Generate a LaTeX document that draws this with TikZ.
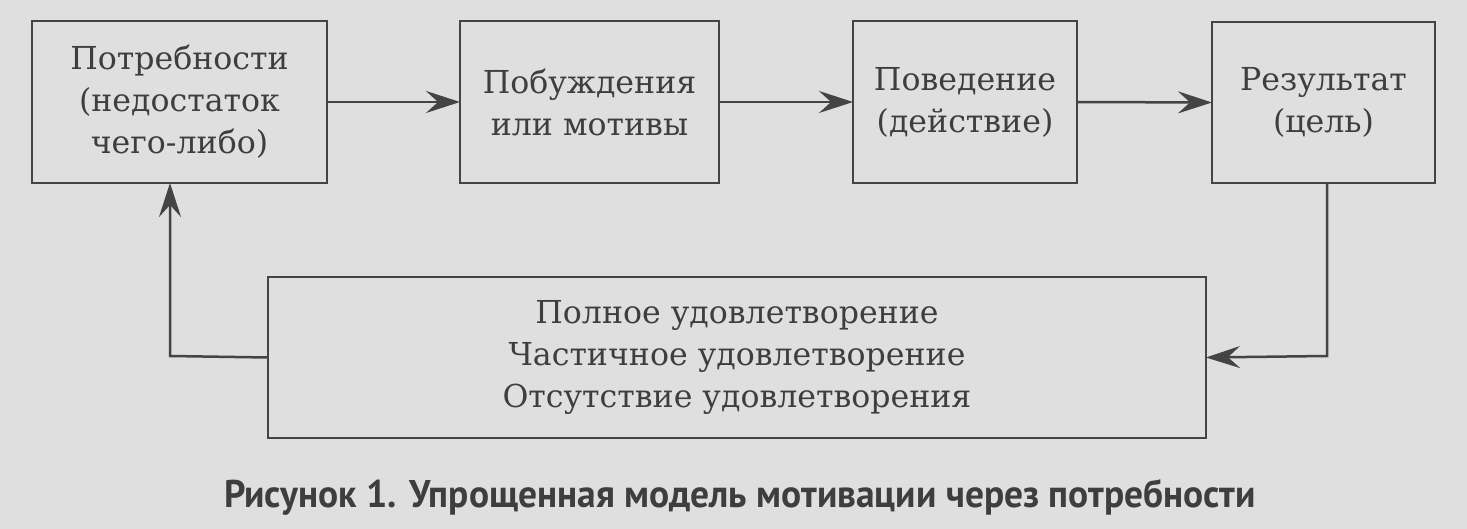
\documentclass[tikz,border=0pt]{standalone}
\usepackage{graphicx}
\usepackage{fontspec}
\setmainfont{DejaVu Serif}
\newfontfamily\capfont{PT Sans}
\usetikzlibrary{arrows.meta}
\definecolor{bgc}{RGB}{223,223,223}
\definecolor{ink}{RGB}{68,68,68}
\definecolor{txt}{RGB}{62,62,62}
\tikzset{
  box/.style={draw=ink, line width=1.25pt, rectangle, inner sep=0pt, outer sep=0pt,
    text=txt, align=center, font=\fontsize{15.8pt}{21pt}\selectfont},
  conn/.style={draw=ink, line width=1.25pt,
    -{Stealth[length=17pt,width=11pt,inset=6pt]}},
}
\begin{document}
\begin{tikzpicture}[x=0.5pt,y=-0.5pt]
\fill[bgc] (0,0) rectangle (1467,529);
\useasboundingbox (0,0) rectangle (1467,529);
\node[box, minimum width=147.5pt, minimum height=81pt] (need) at (179.5,102) {Потребности\\(недостаток\\чего-либо)};
\node[box, minimum width=129.5pt, minimum height=81pt] (motive) at (589.5,102) {Побуждения\\или мотивы};
\node[box, minimum width=112pt, minimum height=81pt] (behav) at (965,102) {Поведение\\(действие)};
\node[box, minimum width=111.5pt, minimum height=80.5pt] (result) at (1323.5,102.5) {Результат\\(цель)};
\node[box, minimum width=469pt, minimum height=80.5pt] (satis) at (737,357.5) {Полное удовлетворение\\Частичное удовлетворение\\Отсутствие удовлетворения};
\coordinate (rc) at (1327,356);
\coordinate (lc) at (170,356);
\draw[conn] (need.east) -- (motive.west);
\draw[conn] (motive.east) -- (behav.west);
\draw[conn] (behav.east) -- (result.west);
\draw[conn] (result.south -| rc) -- (rc) -- (satis.east);
\draw[conn] (satis.west) -- (lc) -- (lc |- need.south);
\node[anchor=base, text=txt, inner sep=0pt] (cap) at (740,507) {\scalebox{0.97}[1]{\capfont\bfseries\fontsize{19.3pt}{22pt}\selectfont Рисунок 1. Упрощенная модель мотивации через потребности}};
\end{tikzpicture}
\end{document}
